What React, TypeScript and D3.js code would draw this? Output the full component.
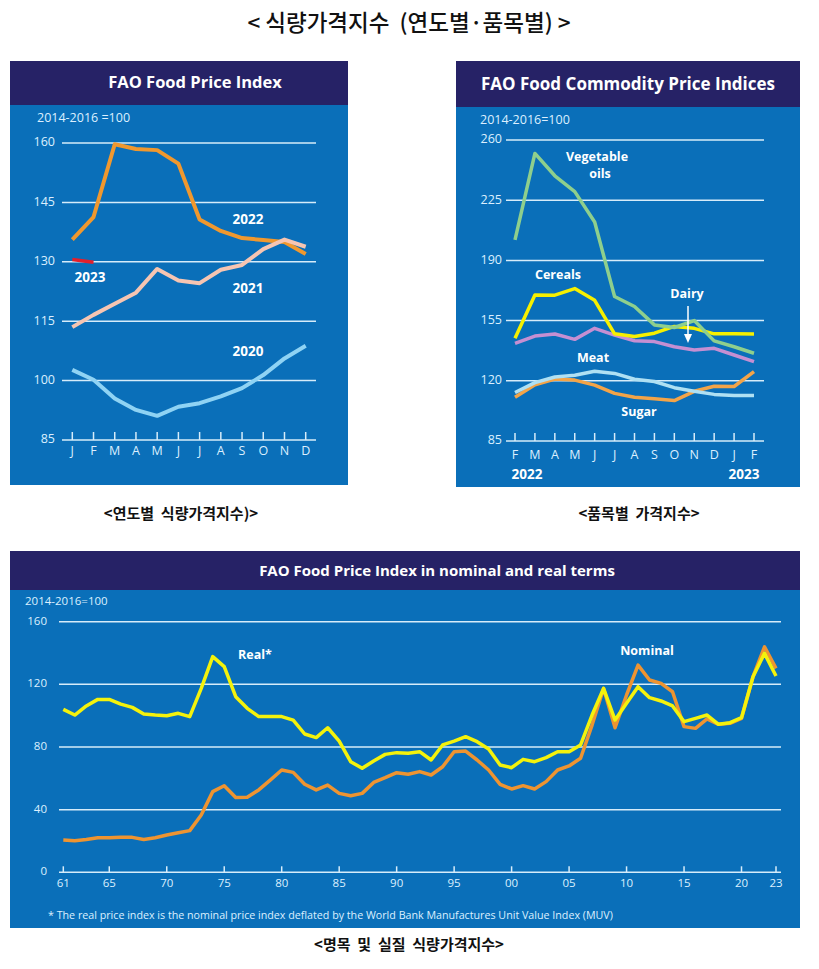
import React from "react";
import * as d3 from "d3";

// ---------- Data ----------
const months = ["J", "F", "M", "A", "M", "J", "J", "A", "S", "O", "N", "D"];
const fpi2020 = [102.7, 100.2, 95.5, 92.6, 91.1, 93.4, 94.3, 96.0, 98.1, 101.4, 105.6, 108.8];
const fpi2021 = [113.5, 116.6, 119.4, 122.2, 128.2, 125.3, 124.6, 128.0, 129.2, 133.2, 135.6, 133.8];
const fpi2022 = [135.6, 141.3, 159.7, 158.5, 158.2, 154.8, 140.7, 137.8, 136.0, 135.5, 135.0, 132.0];
const fpi2023 = [130.6, 129.9];
const leftTicks = [85, 100, 115, 130, 145, 160];

const comMonths = ["F", "M", "A", "M", "J", "J", "A", "S", "O", "N", "D", "J", "F"];
const vegOils = [201.9, 252.2, 239.2, 230.0, 212.3, 169.0, 163.2, 152.5, 151.0, 155.0, 143.2, 139.8, 136.0];
const cereals = [144.8, 169.9, 169.8, 173.6, 166.8, 147.3, 145.7, 147.7, 151.6, 150.5, 147.3, 147.3, 147.2];
const dairy = [141.8, 146.0, 147.2, 144.1, 150.5, 146.6, 143.3, 142.8, 139.8, 137.9, 138.9, 135.0, 131.1];
const meat = [113.2, 118.9, 122.2, 123.2, 125.6, 124.3, 120.9, 119.6, 116.0, 113.9, 112.1, 111.5, 111.5];
const sugar = [110.4, 117.7, 121.0, 120.4, 117.5, 112.7, 110.4, 109.5, 108.5, 113.9, 116.8, 116.7, 125.3];
const rightTicks = [85, 120, 155, 190, 225, 260];

const years = d3.range(1961, 2024);
const realIdx = [
  104, 100.4, 106.2, 110.4, 110.4, 107.4, 105.3, 101, 100.4, 100, 101.5, 99.4, 117.4, 137.7, 131.3, 112.1,
  104.7, 99.4, 99.4, 99.4, 97.2, 88.3, 86, 92.3, 83.8, 70.6, 66.4, 71.1, 75.3, 76.4, 76, 77, 71.7, 81.3,
  83.8, 86.6, 83.4, 78.7, 68.5, 66.8, 72.1, 70.6, 73.2, 77, 77, 81.3, 100.4, 117.4, 97.2, 107.9, 118.5,
  111.5, 109.4, 106.2, 96.2, 98.3, 100.4, 94.5, 95.5, 98.7, 124.9, 139.8, 125.3,
];
const nominalIdx = [
  20.6, 20.2, 21, 22.1, 22.1, 22.3, 22.3, 21, 22.1, 23.8, 25.3, 26.6, 36.6, 51.5, 55.3, 47.7, 47.9, 52.6,
  58.9, 65.3, 63.8, 56.2, 52.6, 55.7, 50.4, 48.9, 50.4, 57.4, 60.4, 63.6, 62.6, 64.3, 62.1, 67.4, 77,
  77.4, 71.7, 65.3, 56.2, 53.2, 55.3, 53.2, 57.9, 65.3, 67.9, 72.8, 94, 117.4, 92.3, 113.2, 132.3, 122.8,
  120.6, 115.3, 93, 91.9, 97.9, 94.5, 95.1, 98.3, 124.9, 144, 130.2,
];
const bottomYTicks = [0, 40, 80, 120, 160];
const bottomXTicks = [1961, 1965, 1970, 1975, 1980, 1985, 1990, 1995, 2000, 2005, 2010, 2015, 2020, 2023];

// ---------- Styles ----------
const BLUE = "#0a6fb9";
const NAVY = "#262266";
const GRID = "#d6ecfa";
const TXT = "#dcefff";
const FONT = "'Open Sans', 'Noto Sans', sans-serif";
const KFONT = "'Noto Sans CJK KR', sans-serif";
const PRE = { whiteSpace: "pre" as const };

function Panel({ x, y, w, h, hh, title, titleSize, titleX }: any) {
  return (
    <g>
      <rect x={x} y={y} width={w} height={h} fill={BLUE} />
      <rect x={x} y={y} width={w} height={hh} fill={NAVY} />
      <text x={titleX ?? x + w / 2} y={y + hh / 2 + 1} fill="#fff" fontFamily={FONT} fontWeight={700}
        fontSize={titleSize} textAnchor="middle" dominantBaseline="middle">{title}</text>
    </g>
  );
}

function Line({ data, x, y, color, width }: any) {
  const gen = d3.line<number>().x((_, i) => x(i)).y((d) => y(d));
  return <path d={gen(data) || ""} fill="none" stroke={color} strokeWidth={width} strokeLinejoin="round" strokeLinecap="butt" />;
}

function LeftChart() {
  const y = d3.scaleLinear().domain([85, 160]).range([440, 143]);
  const x = d3.scaleLinear().domain([0, 11]).range([72.3, 305.7]);
  const gx0 = 62, gx1 = 316;
  return (
    <g>
      <Panel x={10} y={61} w={338} h={424} hh={44} title="FAO Food Price Index" titleSize={16.5} titleX={195} />
      <text x={37} y={122} fill={TXT} fontFamily={FONT} fontSize={12.5}>2014-2016 =100</text>
      {leftTicks.map((t) => (
        <g key={t}>
          <line x1={gx0} x2={gx1} y1={y(t)} y2={y(t)} stroke={GRID} strokeWidth={1.5} />
          <text x={55} y={y(t)} fill={TXT} fontFamily={FONT} fontSize={12.5} textAnchor="end" dominantBaseline="middle">{t}</text>
        </g>
      ))}
      {months.map((m, i) => (
        <g key={i}>
          <line x1={x(i)} x2={x(i)} y1={y(85)} y2={y(85) - 8} stroke={GRID} strokeWidth={1.5} />
          <text x={x(i)} y={452} fill={TXT} fontFamily={FONT} fontSize={12.5} textAnchor="middle" dominantBaseline="middle">{m}</text>
        </g>
      ))}
      <Line data={fpi2020} x={x} y={y} color="#8fd3f4" width={4} />
      <Line data={fpi2022} x={x} y={y} color="#f0982e" width={4} />
      <Line data={fpi2021} x={x} y={y} color="#f6c5b2" width={4} />
      <Line data={fpi2023} x={x} y={y} color="#e3202c" width={3.5} />
      {[["2022", 248, 220], ["2021", 248, 289], ["2020", 248, 352], ["2023", 90, 278]].map(([t, tx, ty]) => (
        <text key={t as string} x={tx as number} y={ty as number} fill="#fff" fontFamily={FONT} fontWeight={700}
          fontSize={13.5} textAnchor="middle" dominantBaseline="middle">{t}</text>
      ))}
    </g>
  );
}

function RightChart() {
  const y = d3.scaleLinear().domain([85, 260]).range([441, 140]);
  const x = d3.scaleLinear().domain([0, 12]).range([515, 754]);
  const gx0 = 506, gx1 = 764;
  const labels: [string, number, number][] = [
    ["Vegetable", 597, 158], ["oils", 600, 175], ["Cereals", 558, 276], ["Dairy", 687, 295], ["Meat", 593, 359], ["Sugar", 639, 413],
  ];
  return (
    <g>
      <Panel x={456} y={61} w={344} h={426} hh={46} title="FAO Food Commodity Price Indices" titleSize={17} />
      <text x={480} y={124} fill={TXT} fontFamily={FONT} fontSize={12.5}>2014-2016=100</text>
      {rightTicks.map((t) => (
        <g key={t}>
          <line x1={gx0} x2={gx1} y1={y(t)} y2={y(t)} stroke={GRID} strokeWidth={1.5} />
          <text x={502} y={y(t)} fill={TXT} fontFamily={FONT} fontSize={12.5} textAnchor="end" dominantBaseline="middle">{t}</text>
        </g>
      ))}
      {comMonths.map((m, i) => (
        <g key={i}>
          <line x1={x(i)} x2={x(i)} y1={y(85)} y2={y(85) - 8} stroke={GRID} strokeWidth={1.5} />
          <text x={x(i)} y={456} fill={TXT} fontFamily={FONT} fontSize={12.5} textAnchor="middle" dominantBaseline="middle">{m}</text>
        </g>
      ))}
      <text x={527} y={475} fill="#fff" fontFamily={FONT} fontWeight={700} fontSize={13.5} textAnchor="middle" dominantBaseline="middle">2022</text>
      <text x={744} y={475} fill="#fff" fontFamily={FONT} fontWeight={700} fontSize={13.5} textAnchor="middle" dominantBaseline="middle">2023</text>
      <Line data={sugar} x={x} y={y} color="#f3a448" width={3.5} />
      <Line data={meat} x={x} y={y} color="#afe0f3" width={3.5} />
      <Line data={dairy} x={x} y={y} color="#c58fd2" width={3.5} />
      <Line data={cereals} x={x} y={y} color="#f6f000" width={3.5} />
      <Line data={vegOils} x={x} y={y} color="#8ecf8d" width={3.5} />
      {labels.map(([t, tx, ty]) => (
        <text key={t} x={tx} y={ty} fill="#fff" fontFamily={FONT} fontWeight={700} fontSize={12.5}
          textAnchor="middle" dominantBaseline="middle">{t}</text>
      ))}
      <line x1={688} x2={688} y1={306} y2={336} stroke="#fff" strokeWidth={1.5} />
      <path d="M684,334 L688,343 L692,334 Z" fill="#fff" />
    </g>
  );
}

function BottomChart() {
  const y = d3.scaleLinear().domain([0, 160]).range([872.3, 621.7]);
  const x = d3.scaleLinear().domain([1961, 2023]).range([63.3, 776]);
  const gx0 = 59, gx1 = 781;
  const gen = d3.line<number>().x((_, i) => x(years[i])).y((d) => y(d));
  const fmt = (v: number) => String(v % 100).padStart(2, "0");
  return (
    <g>
      <Panel x={10} y={551} w={790} h={377} hh={39} title="FAO Food Price Index in nominal and real terms" titleSize={15} titleX={437} />
      <text x={25} y={605} fill={TXT} fontFamily={FONT} fontSize={11.5}>2014-2016=100</text>
      {bottomYTicks.map((t) => (
        <g key={t}>
          <line x1={gx0} x2={gx1} y1={y(t)} y2={y(t)} stroke={GRID} strokeWidth={1.5} />
          <text x={47} y={y(t)} fill={TXT} fontFamily={FONT} fontSize={11.5} textAnchor="end" dominantBaseline="middle">{t}</text>
        </g>
      ))}
      {bottomXTicks.map((t) => (
        <g key={t}>
          <line x1={x(t)} x2={x(t)} y1={y(0)} y2={y(0) - 6} stroke={GRID} strokeWidth={1.5} />
          <text x={x(t)} y={884} fill={TXT} fontFamily={FONT} fontSize={11.5} textAnchor="middle" dominantBaseline="middle">{fmt(t)}</text>
        </g>
      ))}
      <path d={gen(nominalIdx) || ""} fill="none" stroke="#ee9431" strokeWidth={3.5} strokeLinejoin="round" />
      <path d={gen(realIdx) || ""} fill="none" stroke="#f4f20c" strokeWidth={3.5} strokeLinejoin="round" />
      <text x={255} y={656} fill="#fff" fontFamily={FONT} fontWeight={700} fontSize={12.5} textAnchor="middle" dominantBaseline="middle">Real*</text>
      <text x={647} y={652} fill="#fff" fontFamily={FONT} fontWeight={700} fontSize={12.5} textAnchor="middle" dominantBaseline="middle">Nominal</text>
      <text x={48} y={916} fill={TXT} fontFamily={FONT} fontSize={10.7} dominantBaseline="middle">
        * The real price index is the nominal price index deflated by the World Bank Manufactures Unit Value Index (MUV)
      </text>
    </g>
  );
}

export default function App() {
  return (
    <div style={{ position: "absolute", left: 0, top: 0 }}>
      <svg width={819} height={969} style={{ display: "block", background: "#fff" }}>
        <text x={409} y={25} fontFamily={KFONT} fontSize={22.5} fontWeight={500} textAnchor="middle" dominantBaseline="middle" fill="#111" style={PRE}>
          {"< 식량가격지수  (연도별·품목별) >"}
        </text>
        <LeftChart />
        <RightChart />
        <BottomChart />
        <text x={181} y={515} fontFamily={KFONT} fontSize={15} fontWeight={700} textAnchor="middle" dominantBaseline="middle" fill="#111" style={PRE}>
          {"<연도별  식량가격지수)>"}
        </text>
        <text x={639} y={515} fontFamily={KFONT} fontSize={15} fontWeight={700} textAnchor="middle" dominantBaseline="middle" fill="#111" style={PRE}>
          {"<품목별  가격지수>"}
        </text>
        <text x={409} y={946} fontFamily={KFONT} fontSize={15} fontWeight={700} textAnchor="middle" dominantBaseline="middle" fill="#111" style={PRE}>
          {"<명목  및  실질  식량가격지수>"}
        </text>
      </svg>
    </div>
  );
}
